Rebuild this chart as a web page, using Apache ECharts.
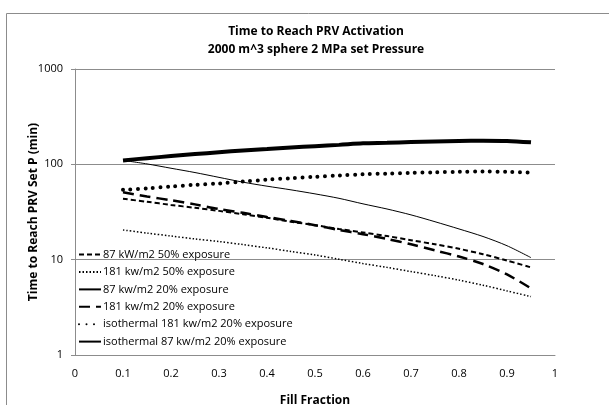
<!DOCTYPE html>
<html>
<head>
<meta charset="utf-8">
<script src="https://cdn.jsdelivr.net/npm/echarts@6/dist/echarts.min.js"></script>
<style>
  html, body { margin: 0; padding: 0; background: #fff; }
  #charts { width: 609px; height: 405px; }
</style>
</head>
<body>
<div id="charts"></div>
<script>
// fill fraction steps
var fill = [0.1, 0.15, 0.2, 0.25, 0.3, 0.35, 0.4, 0.45, 0.5, 0.55, 0.6, 0.65, 0.7, 0.75, 0.8, 0.85, 0.9, 0.95];

// time to reach PRV set pressure (min)
var kw87_50 = [43.5, 40.5, 37.5, 35, 32.5, 30, 27.5, 25, 23, 21, 19.3, 17.7, 16, 14.5, 13, 11.4, 9.8, 8.3];
var kw181_50 = [20.5, 19, 17.7, 16.5, 15.5, 14.4, 13.3, 12.2, 11.2, 10.1, 9.1, 8.3, 7.5, 6.8, 6.1, 5.4, 4.7, 4.1];
var kw87_20 = [110, 101, 91, 82, 73, 65, 59, 54, 49, 44, 38.5, 34, 29.5, 25, 21, 17.5, 14, 10.5];
var kw181_20 = [51, 46, 42, 38, 34, 31, 28, 25.5, 23, 20.5, 18.5, 16.5, 14.5, 12.5, 10.8, 9, 7, 5];
var iso181_20 = [54, 56, 58.5, 61, 63, 66, 69, 71.5, 74, 76.5, 78.5, 80, 81.5, 82.5, 83.5, 84, 83.5, 82];
var iso87_20 = [110, 116, 122, 128, 134, 140, 145, 150, 155, 160, 166, 168, 171, 174, 176, 177, 176, 170];

var names = ['87 kW/m2 50% exposure', '181 kw/m2 50% exposure', '87 kw/m2 20% exposure',
             '181 kw/m2 20% exposure', 'isothermal 181 kw/m2 20% exposure', 'isothermal 87 kw/m2 20% exposure'];

function pairs(ys) {
    var out = [];
    for (var i = 0; i < fill.length; i++) out.push([fill[i], ys[i]]);
    return out;
}

function line(name, ys, width, type, cap) {
    return {
        name: name,
        type: 'line',
        data: pairs(ys),
        smooth: 0.3,
        symbol: 'none',
        animation: false,
        itemStyle: { color: 'rgba(0,0,0,0)' },
        lineStyle: { color: '#000', width: width, type: type, cap: cap || 'butt' }
    };
}

var chart = echarts.init(document.getElementById('charts'));
var font = '"Open Sans", "Liberation Sans", sans-serif';

var option = {
    animation: false,
    textStyle: { fontFamily: font },
    title: {
        text: 'Time to Reach PRV Activation\n2000 m^3 sphere 2 MPa set Pressure',
        left: 311, top: 18, textAlign: 'center',
        textStyle: { fontSize: 12, fontWeight: 'bold', color: '#000', lineHeight: 18, fontFamily: font }
    },
    legend: {
        orient: 'vertical',
        left: 73, top: 244,
        itemWidth: 22, itemHeight: 14, itemGap: 6.2,
        data: names,
        textStyle: { fontSize: 11, color: '#000', padding: [0, 0, 0, -3] }
    },
    grid: { left: 75, right: 54, top: 69, bottom: 50, outerBoundsMode: 'none', containLabel: false },
    xAxis: {
        type: 'value', min: 0, max: 1, interval: 0.1,
        name: 'Fill Fraction', nameLocation: 'middle', nameGap: 40,
        nameTextStyle: { fontSize: 12, fontWeight: 'bold', color: '#000' },
        axisLine: { lineStyle: { color: '#8c8c8c' } },
        axisTick: { show: false },
        axisLabel: { color: '#000', fontSize: 11, margin: 13 },
        splitLine: { show: false }
    },
    yAxis: {
        type: 'log', logBase: 10, min: 1, max: 1000,
        name: 'Time to Reach PRV Set P (min)', nameLocation: 'middle', nameGap: 35,
        nameMoveOverlap: false,
        nameTextStyle: { fontSize: 12, fontWeight: 'bold', color: '#000' },
        axisLine: { show: true, lineStyle: { color: '#8c8c8c' } },
        axisTick: { show: true, length: 4, lineStyle: { color: '#8c8c8c' } },
        axisLabel: { color: '#000', fontSize: 11, margin: 12, formatter: function (v) { return String(v); } },
        splitLine: { lineStyle: { color: '#8c8c8c', width: 1 } }
    },
    graphic: [{
        type: 'rect', left: 4, top: 11,
        shape: { width: 700, height: 500 },
        style: { fill: 'none', stroke: '#8c8c8c', lineWidth: 1 },
        silent: true
    }],
    series: [
        line(names[0], kw87_50, 2, [5, 3]),
        line(names[1], kw181_50, 1.5, [1.5, 2]),
        line(names[2], kw87_20, 1, 'solid'),
        line(names[3], kw181_20, 2.5, [11, 6]),
        line(names[4], iso181_20, 4, [0, 7.5], 'round'),
        line(names[5], iso87_20, 4, 'solid')
    ]
};
chart.setOption(option);
</script>
</body>
</html>
